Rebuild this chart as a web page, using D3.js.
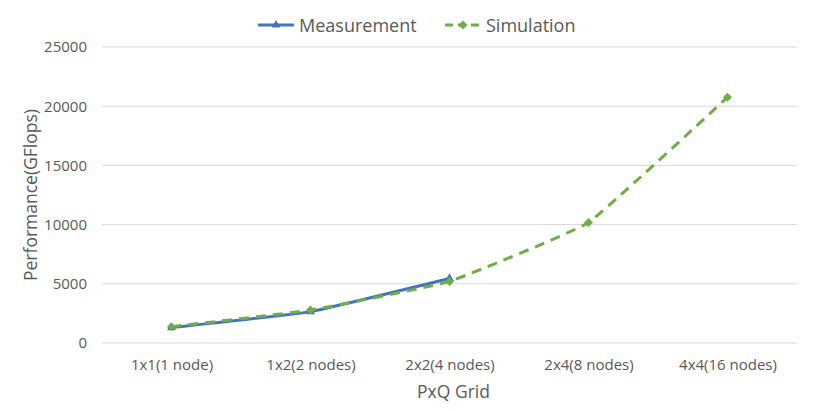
<!DOCTYPE html>
<html lang="en">
<head>
<meta charset="utf-8">
<title>PxQ Grid Performance</title>
<script src="https://cdn.jsdelivr.net/npm/d3@7"></script>
<style>
  body { margin: 0; background: #fff; }
  text { font-family: "Open Sans", "Noto Sans", sans-serif; fill: #595959; }
</style>
</head>
<body>
<script>
// data
var categories = ["1x1(1 node)", "1x2(2 nodes)", "2x2(4 nodes)", "2x4(8 nodes)", "4x4(16 nodes)"];
var measurement = [1300, 2650, 5450];
var simulation = [1380, 2780, 5200, 10180, 20750];
var yTicks = [0, 5000, 10000, 15000, 20000, 25000];

var width = 830, height = 411;
var margin = {top: 47, right: 33, bottom: 68, left: 102};

var svg = d3.select("body").append("svg")
  .attr("width", width)
  .attr("height", height);

var x = d3.scalePoint()
  .domain(categories)
  .range([margin.left, width - margin.right])
  .padding(0.5);

var y = d3.scaleLinear()
  .domain([0, 25000])
  .range([height - margin.bottom, margin.top]);

// gridlines
svg.append("g")
  .selectAll("line")
  .data(yTicks)
  .enter().append("line")
  .attr("x1", margin.left)
  .attr("x2", width - margin.right)
  .attr("y1", function(d) { return y(d); })
  .attr("y2", function(d) { return y(d); })
  .attr("stroke", "#d9d9d9")
  .attr("stroke-width", 1);

// y axis labels
var yAxis = svg.append("g")
  .attr("transform", "translate(" + (margin.left - 15) + ",0)")
  .call(d3.axisLeft(y).tickValues(yTicks).tickFormat(d3.format("d")).tickSize(0).tickPadding(0));
yAxis.select(".domain").remove();
yAxis.selectAll("text").attr("font-size", 15).attr("fill", "#595959");

// x axis labels
var xAxis = svg.append("g")
  .attr("transform", "translate(0," + (height - margin.bottom) + ")")
  .call(d3.axisBottom(x).tickSize(0).tickPadding(16));
xAxis.select(".domain").remove();
xAxis.selectAll("text").attr("font-size", 15).attr("fill", "#595959");

// axis titles
svg.append("text")
  .attr("x", x(categories[2]) + 4)
  .attr("y", 398)
  .attr("text-anchor", "middle")
  .attr("font-size", 17.5)
  .text("PxQ Grid");

svg.append("text")
  .attr("transform", "translate(37," + ((margin.top + height - margin.bottom) / 2) + ") rotate(-90)")
  .attr("text-anchor", "middle")
  .attr("font-size", 17.5)
  .text("Performance(GFlops)");

// smoothed, but only lightly
var line = d3.line()
  .x(function(d, i) { return x(categories[i]); })
  .y(function(d) { return y(d); })
  .curve(d3.curveCardinal.tension(0.7));

var blue = "#4472c4", green = "#70ad47";

// measurement
svg.append("path")
  .datum(measurement)
  .attr("d", line)
  .attr("fill", "none")
  .attr("stroke", blue)
  .attr("stroke-width", 3);

var tri = d3.symbol().type(d3.symbolTriangle).size(34);
svg.append("g").selectAll("path")
  .data(measurement)
  .enter().append("path")
  .attr("d", tri)
  .attr("transform", function(d, i) { return "translate(" + x(categories[i]) + "," + y(d) + ")"; })
  .attr("fill", blue);

// simulation
svg.append("path")
  .datum(simulation)
  .attr("d", line)
  .attr("fill", "none")
  .attr("stroke", green)
  .attr("stroke-width", 3)
  .attr("stroke-dasharray", "10,7");

var dia = d3.symbol().type(d3.symbolSquare).size(40);
svg.append("g").selectAll("path")
  .data(simulation)
  .enter().append("path")
  .attr("d", dia)
  .attr("transform", function(d, i) { return "translate(" + x(categories[i]) + "," + y(d) + ") rotate(45)"; })
  .attr("fill", green);

// legend
var legend = [
  {name: "Measurement", color: blue, x: 258, dash: null, sym: tri, rot: 0},
  {name: "Simulation", color: green, x: 445, dash: "8,5", sym: dia, rot: 45}
];
var lg = svg.append("g").selectAll("g")
  .data(legend)
  .enter().append("g")
  .attr("transform", function(d) { return "translate(" + d.x + ",25)"; });
lg.append("line")
  .attr("x1", 0).attr("x2", 36)
  .attr("stroke", function(d) { return d.color; })
  .attr("stroke-width", 3)
  .attr("stroke-dasharray", function(d) { return d.dash; });
lg.append("path")
  .attr("d", function(d) { return d.sym(); })
  .attr("transform", function(d) { return "translate(18,0) rotate(" + d.rot + ")"; })
  .attr("fill", function(d) { return d.color; });
lg.append("text")
  .attr("x", 41)
  .attr("y", 6.5)
  .attr("font-size", 18)
  .text(function(d) { return d.name; });
</script>
</body>
</html>
